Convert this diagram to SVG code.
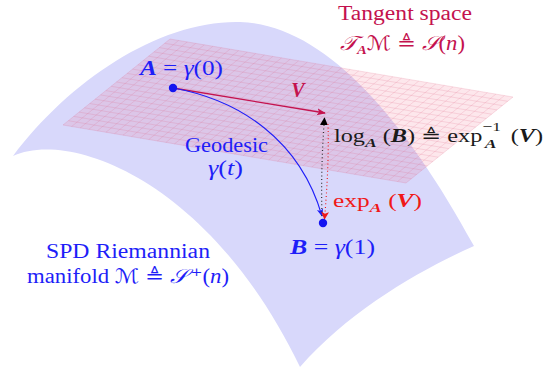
<svg xmlns="http://www.w3.org/2000/svg" width="552" height="368" viewBox="0 0 552 368">
<style>
text{font-family:"Liberation Serif","DejaVu Serif",serif;font-size:20px}
.sm{font-size:18px}
.bl{fill:#1e1ef8}
.cr{fill:#c4124e}
.rd{fill:#f01818}
.bk{fill:#1a1a1a}
.bi{font-weight:bold;font-style:italic}
.it{font-style:italic}
.sub{font-size:13px}
.scr{font-family:"DejaVu Serif","DejaVu Sans",serif;font-style:italic}
.sup{font-family:"DejaVu Serif",serif}
.grid{stroke:#e0607f;stroke-opacity:0.3;stroke-width:0.6;fill:none}
</style>
<defs>
<marker id="ahV" viewBox="0 0 10 10" refX="9" refY="5" markerWidth="9" markerHeight="9" markerUnits="userSpaceOnUse" orient="auto"><path d="M0,1 L10,5 L0,9 L2.5,5 Z" fill="#c4124e"/></marker>
<marker id="ahB" viewBox="0 0 10 10" refX="9" refY="5" markerWidth="8" markerHeight="8" markerUnits="userSpaceOnUse" orient="auto"><path d="M0,1 L10,5 L0,9 L2.5,5 Z" fill="#1e1ef8"/></marker>
<marker id="ahK" viewBox="0 0 10 10" refX="9" refY="5" markerWidth="8" markerHeight="8" markerUnits="userSpaceOnUse" orient="auto"><path d="M0,0 L10,5 L0,10 Z" fill="#000"/></marker>
<marker id="ahR" viewBox="0 0 10 10" refX="9" refY="5" markerWidth="8" markerHeight="8" markerUnits="userSpaceOnUse" orient="auto"><path d="M0,0 L10,5 L0,10 L2.5,5 Z" fill="#f01818"/></marker>
</defs>
<g id="manifold">
<path d="M13,156 C70,80 160,20 240,22 C320,24 400,110 474,246 C420,270 350,310 300,367 C210,180 70,130 13,156 Z" fill="#d8d8fb"/>
</g>
<g id="tangent-plane">
<path d="M170,39 L513,97 L406,183 L63,125 Z" fill="#f06a8a" fill-opacity="0.16"/>
<path class="grid" d="M170,39L513,97M164.65,43.3L507.65,101.3M159.3,47.6L502.3,105.6M153.95,51.9L496.95,109.9M148.6,56.2L491.6,114.2M143.25,60.5L486.25,118.5M137.9,64.8L480.9,122.8M132.55,69.1L475.55,127.1M127.2,73.4L470.2,131.4M121.85,77.7L464.85,135.7M116.5,82L459.5,140M111.15,86.3L454.15,144.3M105.8,90.6L448.8,148.6M100.45,94.9L443.45,152.9M95.1,99.2L438.1,157.2M89.75,103.5L432.75,161.5M84.4,107.8L427.4,165.8M79.05,112.1L422.05,170.1M73.7,116.4L416.7,174.4M68.35,120.7L411.35,178.7M63,125L406,183
M170,39L63,125M178.6,40.5L71.6,126.5M187.2,41.9L80.2,127.9M195.7,43.4L88.7,129.4M204.3,44.8L97.3,130.8M212.9,46.3L105.9,132.3M221.5,47.7L114.5,133.7M230,49.2L123,135.2M238.6,50.6L131.6,136.6M247.2,52.1L140.2,138.1M255.8,53.5L148.8,139.5M264.3,55L157.3,141M272.9,56.4L165.9,142.4M281.5,57.9L174.5,143.9M290.1,59.3L183.1,145.3M298.6,60.8L191.6,146.8M307.2,62.2L200.2,148.2M315.8,63.7L208.8,149.7M324.4,65.1L217.4,151.1M332.9,66.6L225.9,152.6M341.5,68L234.5,154M350.1,69.5L243.1,155.5M358.7,70.9L251.7,156.9M367.2,72.4L260.2,158.4M375.8,73.8L268.8,159.8M384.4,75.3L277.4,161.3M393,76.7L286,162.7M401.5,78.2L294.5,164.2M410.1,79.6L303.1,165.6M418.7,81.1L311.7,167.1M427.3,82.5L320.3,168.5M435.8,84L328.8,170M444.4,85.4L337.4,171.4M453,86.9L346,172.9M461.6,88.3L354.6,174.3M470.1,89.8L363.1,175.8M478.7,91.2L371.7,177.2M487.3,92.7L380.3,178.7M495.9,94.1L388.9,180.1M504.4,95.6L397.4,181.6M513,97L406,183"/>
</g>
<g id="connectors" fill="none">
<path id="vec-V" d="M173,88 L325,113" stroke="#c4124e" stroke-width="1.3" marker-end="url(#ahV)"/>
<path id="geodesic" d="M173,88 C240,100 300,140 322,216" stroke="#1e1ef8" stroke-width="1.1" marker-end="url(#ahB)"/>
<path id="log-map" d="M322,216 C321,185 322,150 324.5,118" stroke="#333" stroke-width="1.2" stroke-dasharray="1 2.6" marker-end="url(#ahK)"/>
<path id="exp-map" d="M328,124 C329,155 327,190 324.5,219" stroke="#f01818" stroke-width="1.1" stroke-dasharray="1 2.6" marker-end="url(#ahR)"/>
</g>
<g id="node-A">
<circle cx="173" cy="88" r="4.2" fill="#1414f0"/>
<text class="bl" x="140" y="75" textLength="83" lengthAdjust="spacingAndGlyphs"><tspan class="bi">A</tspan> = <tspan class="it">γ</tspan>(0)</text>
</g>
<g id="node-B">
<circle cx="323" cy="223" r="4.2" fill="#1414f0"/>
<text class="bl" x="290" y="254" textLength="85" lengthAdjust="spacingAndGlyphs"><tspan class="bi">B</tspan> = <tspan class="it">γ</tspan>(1)</text>
</g>
<g id="label-tangent">
<text class="cr" x="338" y="20" textLength="134" lengthAdjust="spacingAndGlyphs">Tangent space</text>
<text class="cr" x="340" y="50" textLength="125" lengthAdjust="spacingAndGlyphs"><tspan class="scr">𝒯</tspan><tspan class="bi sub" dy="4">A</tspan><tspan class="scr" dy="-4">ℳ</tspan> ≜ <tspan class="scr">𝒮</tspan>(<tspan class="it">n</tspan>)</text>
</g>
<g id="label-V">
<text class="cr bi" x="298" y="97" text-anchor="middle">V</text>
</g>
<g id="label-geodesic">
<text class="bl" x="185" y="152" textLength="83" lengthAdjust="spacingAndGlyphs">Geodesic</text>
<text class="bl" x="208" y="175" textLength="35" lengthAdjust="spacingAndGlyphs"><tspan class="it">γ</tspan>(<tspan class="it">t</tspan>)</text>
</g>
<g id="label-log">
<text class="bk sm" x="334" y="142" textLength="209" lengthAdjust="spacingAndGlyphs">log<tspan class="bi sub" dy="5">A</tspan><tspan dy="-5"> (</tspan><tspan class="bi">B</tspan>) ≜ exp<tspan class="sub" dy="-11">−1</tspan><tspan class="bi sub" dx="-12" dy="17">A</tspan><tspan dx="6" dy="-6"> (</tspan><tspan class="bi">V</tspan>)</text>
</g>
<g id="label-exp">
<text class="rd sm" x="333" y="207" textLength="89" lengthAdjust="spacingAndGlyphs">exp<tspan class="bi sub" dy="5">A</tspan><tspan dy="-5"> (</tspan><tspan class="bi">V</tspan>)</text>
</g>
<g id="label-manifold">
<text class="bl" x="46" y="258" textLength="164" lengthAdjust="spacingAndGlyphs">SPD Riemannian</text>
<text class="bl" x="27" y="283" textLength="202" lengthAdjust="spacingAndGlyphs">manifold <tspan class="scr">ℳ</tspan> ≜ <tspan class="scr">𝒮</tspan><tspan class="sup" dx="3">⁺</tspan>(<tspan class="it">n</tspan>)</text>
</g>
</svg>
